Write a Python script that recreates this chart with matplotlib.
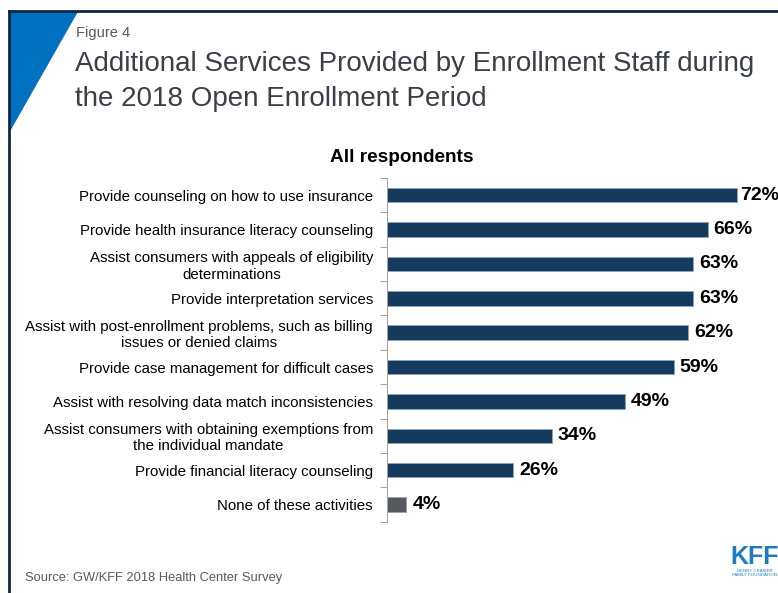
import matplotlib
matplotlib.use("Agg")
import matplotlib.pyplot as plt
from matplotlib.patches import Polygon
from matplotlib.lines import Line2D

plt.rcParams['font.family'] = ['Liberation Sans', 'DejaVu Sans']

categories = [
    "Provide counseling on how to use insurance",
    "Provide health insurance literacy counseling",
    "Assist consumers with appeals of eligibility\ndeterminations",
    "Provide interpretation services",
    "Assist with post-enrollment problems, such as billing\nissues or denied claims",
    "Provide case management for difficult cases",
    "Assist with resolving data match inconsistencies",
    "Assist consumers with obtaining exemptions from\nthe individual mandate",
    "Provide financial literacy counseling",
    "None of these activities",
]
values = [72, 66, 63, 63, 62, 59, 49, 34, 26, 4]
bar_colors = ["#143a5e"] * 9 + ["#58595b"]

W, H = 778, 593
fig = plt.figure(figsize=(W / 100, H / 100), dpi=100)

# frame and blue corner
fig.add_artist(Line2D([9 / W, 1], [1 - 11 / H, 1 - 11 / H], color="#0e2841", lw=2))
fig.add_artist(Line2D([9 / W, 9 / W], [0, 1 - 11 / H], color="#0e2841", lw=2))
fig.add_artist(Polygon([[10 / W, 1 - 12 / H], [77 / W, 1 - 12 / H], [10 / W, 1 - 130 / H]],
                       closed=True, color="#0070c0", transform=fig.transFigure))

fig.text(76 / W, 1 - 33 / H, "Figure 4", fontsize=10.5, color="#595959", va="center")
fig.text(75 / W, 1 - 81.5 / H, "Additional Services Provided by Enrollment Staff during\nthe 2018 Open Enrollment Period",
         fontsize=20, color="#3a3f48", va="center", linespacing=1.42)

ax = fig.add_axes([387 / W, 1 - 521.7 / H, 388.6 / W, (521.7 - 178) / H])
y = list(range(len(values)))
ax.barh(y, values, height=0.42, color=bar_colors, edgecolor="#8ea3b8", linewidth=0.6)
ax.set_xlim(0, 80)
ax.set_ylim(len(values) - 0.5, -0.5)

for yi, v in zip(y, values):
    off = 0.6 if v > 70 else 1.2
    ax.text(v + off, yi, f"{v}%", fontsize=14, fontweight="bold", va="center", ha="left")

ax.set_yticks(y)
ax.set_yticklabels(categories, fontsize=10.8, ha="right", multialignment="center")
ax.tick_params(axis="y", which="major", length=0, pad=10)
ax.set_yticks([i - 0.5 for i in range(len(values) + 1)], minor=True)
ax.tick_params(axis="y", which="minor", length=5, color="#a6a6a6", width=0.8)
ax.set_xticks([])
for s in ["top", "right", "bottom"]:
    ax.spines[s].set_visible(False)
ax.spines["left"].set_color("#a6a6a6")
ax.spines["left"].set_linewidth(0.8)

fig.text(402 / W, 1 - 157 / H, "All respondents", fontsize=13.7, fontweight="bold", ha="center", va="center")

fig.text(25 / W, 1 - 578 / H, "Source: GW/KFF 2018 Health Center Survey", fontsize=9.25, color="#595959", va="center")

# KFF logo text
fig.text(755 / W, 1 - 557 / H, "KFF", fontsize=18, fontweight="bold", color="#1f7bc0", ha="center", va="center")
fig.text(755 / W, 1 - 573 / H, "HENRY J KAISER\nFAMILY FOUNDATION", fontsize=3.2, color="#1f7bc0",
         ha="center", va="center", linespacing=1.0)

fig.savefig("out.png", dpi=100)
